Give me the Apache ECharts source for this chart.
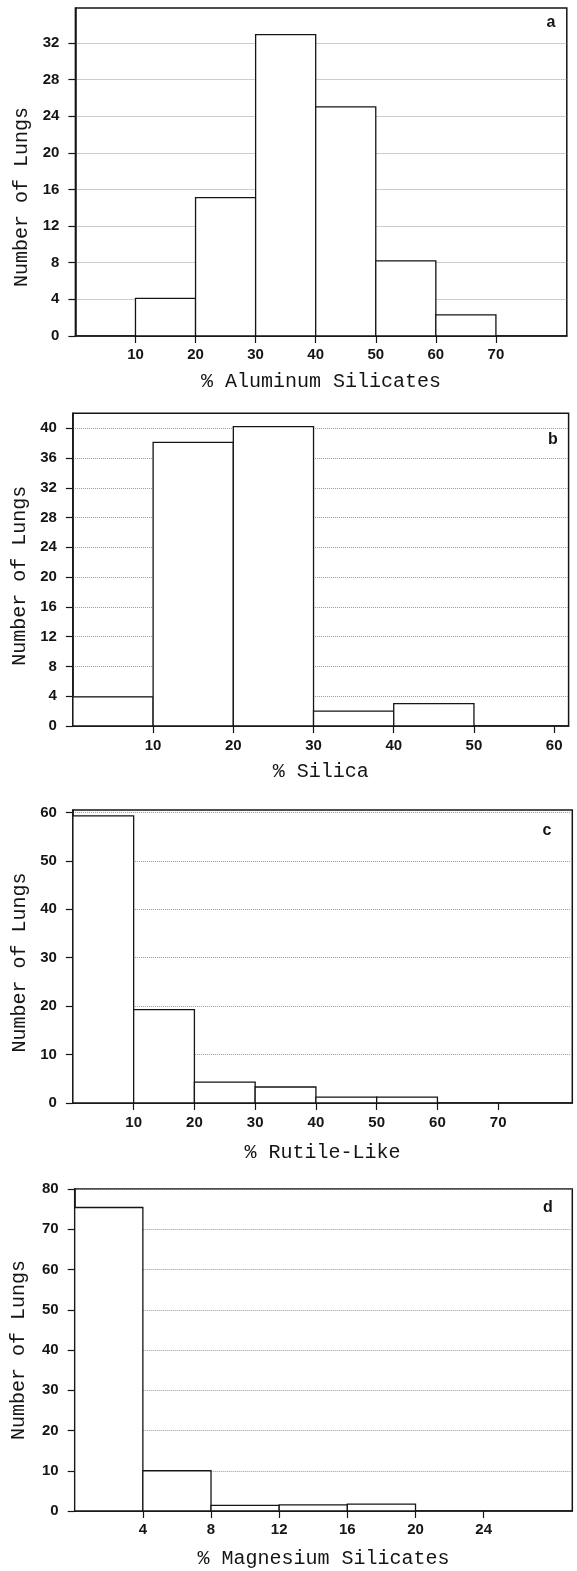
<!DOCTYPE html>
<html>
<head>
<meta charset="utf-8">
<script src="https://cdn.jsdelivr.net/npm/echarts@6/dist/echarts.min.js"></script>
<style>
html,body{margin:0;padding:0;background:#fff;}
#chart{width:577px;height:1571px;}
</style>
</head>
<body>
<div id="chart"></div>
<script>
// ---- data ----
const panelLetters = ['a', 'b', 'c', 'd'];
const xTitles = ['% Aluminum Silicates', '% Silica', '% Rutile-Like', '% Magnesium Silicates'];
const yTitle = 'Number of Lungs';

const binStartA = [10, 20, 30, 40, 50, 60];
const countsA = [4.1, 15.1, 32.9, 25, 8.2, 2.3];
const binStartB = [0, 10, 20, 30, 40];
const countsB = [3.9, 38.1, 40.2, 2, 3];
const binStartC = [0, 10, 20, 30, 40, 50];
const countsC = [59.3, 19.3, 4.3, 3.3, 1.2, 1.2];
const binStartD = [0, 4, 8, 12, 16];
const countsD = [75.4, 10, 1.4, 1.5, 1.7];
const binWidths = [10, 10, 10, 4];

const xTicksA = [10, 20, 30, 40, 50, 60, 70];
const xTicksB = [10, 20, 30, 40, 50, 60];
const xTicksC = [10, 20, 30, 40, 50, 60, 70];
const xTicksD = [4, 8, 12, 16, 20, 24];

const yTicksA = [0, 4, 8, 12, 16, 20, 24, 28, 32];
const yTicksB = [0, 4, 8, 12, 16, 20, 24, 28, 32, 36, 40];
const yTicksC = [0, 10, 20, 30, 40, 50, 60];
const yTicksD = [0, 10, 20, 30, 40, 50, 60, 70, 80];

// ---- layout ----
const grids = [
  {left: 75.4, top: 8, width: 491.4, height: 328},
  {left: 72.9, top: 413.3, width: 495.7, height: 312.7},
  {left: 72.9, top: 810, width: 499.4, height: 293},
  {left: 74.7, top: 1189, width: 497.6, height: 322}
];
const xMax = [81.8, 61.8, 82.2, 29.2];
const yMax = [35.8, 42, 60.5, 80];
const yInterval = [4, 4, 10, 10];
const xInterval = [10, 10, 10, 4];
const xNameGap = [36, 36, 40, 38];
const yNameGap = [41, 39, 40, 46];
const yNamePad = [[0, 50, 0, 0], [0, 12, 0, 0], [0, 12, 0, 0], [0, 0, 0, 0]];
const xLabelMargin = [11, 12, 12, 11];
const letterPos = [[551, 23], [553, 440], [547, 831], [548, 1208]];

const bins = [binStartA, binStartB, binStartC, binStartD];
const counts = [countsA, countsB, countsC, countsD];
const xTicks = [xTicksA, xTicksB, xTicksC, xTicksD];
const yTicks = [yTicksA, yTicksB, yTicksC, yTicksD];

const INK = '#151515';
const labelFont = {fontFamily: '"Liberation Sans", Arial, sans-serif', fontSize: 15, fontWeight: 'bold', color: INK};
const titleFont = {fontFamily: '"Liberation Mono", "DejaVu Sans Mono", monospace', fontSize: 20, color: INK};

function renderBin(params, api) {
  const x0 = api.value(0), x1 = api.value(1), v = api.value(2);
  const p0 = api.coord([x0, v]);
  const p1 = api.coord([x1, 0]);
  return {
    type: 'rect',
    shape: {x: p0[0], y: p0[1], width: p1[0] - p0[0], height: p1[1] - p0[1]},
    style: {fill: '#fff', stroke: INK, lineWidth: 1.3}
  };
}

const option = {
  backgroundColor: '#fff',
  animation: false,
  grid: grids.map(g => Object.assign({show: true, borderColor: INK, borderWidth: 1.5, backgroundColor: 'transparent'}, g)),
  xAxis: grids.map((g, i) => ({
    type: 'value', gridIndex: i, min: 0, max: xMax[i], interval: xInterval[i],
    axisLine: {show: true, onZero: false, lineStyle: {color: INK, width: 1.5}},
    axisTick: {show: true, length: 7, customValues: xTicks[i], lineStyle: {color: INK, width: 1.2}},
    axisLabel: Object.assign({customValues: xTicks[i], margin: xLabelMargin[i]}, labelFont),
    splitLine: {show: false},
    name: xTitles[i], nameLocation: 'middle', nameGap: xNameGap[i],
    nameTextStyle: titleFont
  })),
  yAxis: grids.map((g, i) => ({
    type: 'value', gridIndex: i, min: 0, max: yMax[i], interval: yInterval[i],
    axisLine: {show: true, lineStyle: {color: INK, width: 1.5}},
    axisTick: {show: true, length: 7, customValues: yTicks[i], lineStyle: {color: INK, width: 1.2}},
    axisLabel: Object.assign({customValues: yTicks[i], margin: 16}, labelFont),
    splitLine: {show: true, lineStyle: {type: 'dotted', color: '#9a9a9a', width: 1}},
    name: yTitle, nameLocation: 'middle', nameGap: yNameGap[i],
    nameTextStyle: Object.assign({padding: yNamePad[i]}, titleFont)
  })),
  series: bins.map((b, i) => ({
    type: 'custom', xAxisIndex: i, yAxisIndex: i,
    renderItem: renderBin,
    encode: {x: [0, 1], y: 2},
    data: b.map((s, j) => [s, s + binWidths[i], counts[i][j]])
  })),
  graphic: panelLetters.map((t, i) => ({
    type: 'text', x: letterPos[i][0], y: letterPos[i][1],
    style: {text: t, align: 'center', verticalAlign: 'middle',
      font: 'bold 16px "Liberation Sans", Arial, sans-serif', fill: INK}
  }))
};

const chart = echarts.init(document.getElementById('chart'), null, {renderer: 'canvas'});
chart.setOption(option);
</script>
</body>
</html>
